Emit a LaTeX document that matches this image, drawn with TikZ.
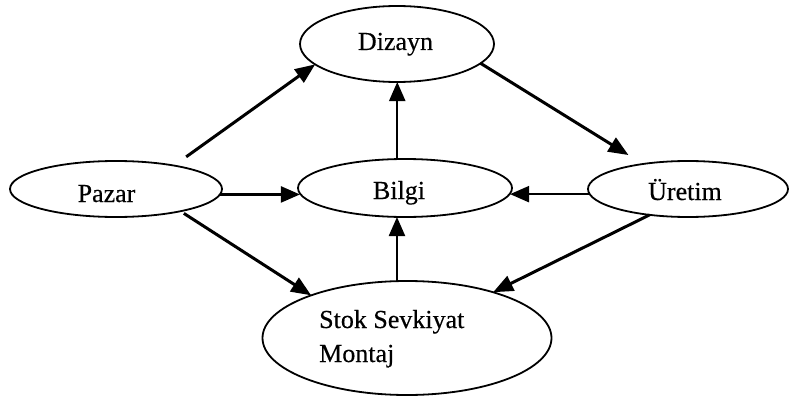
\documentclass[tikz,border=0pt]{standalone}
\usepackage{fontspec}
\setmainfont{Liberation Serif}[FakeBold=0.4]
\usetikzlibrary{shapes.geometric,arrows.meta}

\begin{document}
\begin{tikzpicture}[x=1pt,y=-1pt,
  oval/.style={ellipse, draw, line width=1.8pt, inner sep=0pt, outer sep=0pt},
  lbl/.style={anchor=base, inner sep=0pt, font=\fontsize{26}{34}\selectfont},
  flow/.style={-{Triangle[length=20pt,width=16pt]}, line width=3pt},
  flowthin/.style={-{Triangle[length=19pt,width=16pt]}, line width=2.2pt}]
\useasboundingbox (0,0) rectangle (790,396);

% ovals
\node[oval, minimum width=194pt, minimum height=76pt] (dizayn) at (397,44) {};
\node[oval, minimum width=212pt, minimum height=56pt] (pazar)  at (116,189) {};
\node[oval, minimum width=214pt, minimum height=58pt] (bilgi)  at (405,188) {};
\node[oval, minimum width=200pt, minimum height=56pt] (uretim) at (688,189) {};
\node[oval, minimum width=289pt, minimum height=114pt] (stok)  at (407,338) {};

% labels
\node[lbl] (tdizayn) at (395.5,50) {Dizayn};
\node[lbl] (tpazar)  at (106.5,202) {Pazar};
\node[lbl] (tbilgi)  at (399,199) {Bilgi};
\node[lbl] (turetim) at (685,200) {Üretim};
\node[lbl, anchor=base west] (tstok1) at (319,328) {Stok Sevkiyat};
\node[lbl, anchor=base west] (tstok2) at (319,362) {Montaj};

% connectors
\draw[flow, shorten <=15pt] (pazar.22.1) -- (dizayn.194.5);
\draw[flowthin] (pazar.-3.3) -- (bilgi.183.9 |- pazar.-3.3);
\draw[flow, shorten <=4pt] (pazar.-19.6) -- (stok.156.7);
\draw[flow, shorten >=17pt] (dizayn.-13.1) -- (uretim.151.8);
\draw[flowthin] (uretim.183.5) -- (bilgi.-3.86 |- uretim.183.5);
\draw[flow] (uretim.214.4) -- (stok.28.1);
\draw[flowthin] (bilgi.105.5) -- (bilgi.105.5 |- dizayn.south);
\draw[flowthin] (stok.100) -- (stok.100 |- bilgi.south);
\end{tikzpicture}
\end{document}
